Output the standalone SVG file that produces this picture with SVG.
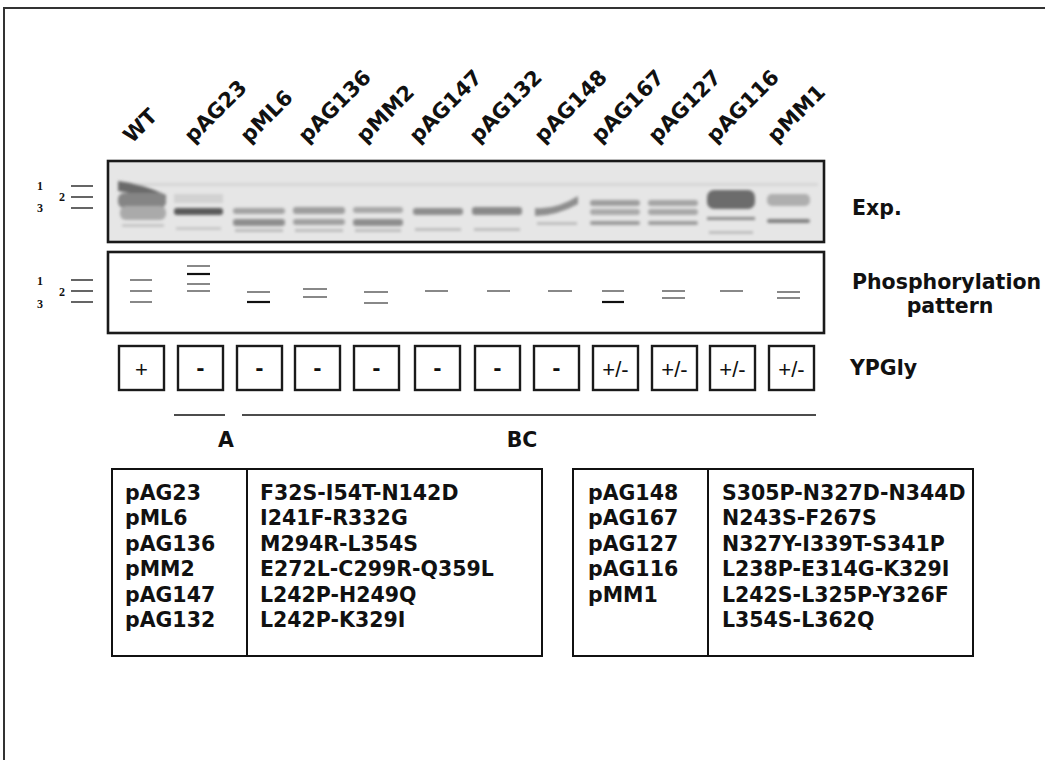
<svg xmlns="http://www.w3.org/2000/svg" width="1045" height="760" viewBox="0 0 1045 760">
<defs>
<style>
.lbl{font-family:"DejaVu Sans",Verdana,sans-serif;font-weight:bold;font-size:21px;fill:#111}
.big{font-family:"DejaVu Sans",Verdana,sans-serif;font-weight:bold;font-size:20.5px;fill:#111}
.num{font-family:"Liberation Serif","Times New Roman",serif;font-weight:bold;font-size:12px;fill:#111}
.mk{stroke:#111;stroke-width:1.3;fill:none}
.g{stroke:#555;stroke-width:1.4;fill:none}
.b{stroke:#111;stroke-width:2.2;fill:none}
.box{fill:#fff;stroke:#1a1a1a;stroke-width:2.4}
.pm{font-family:"Liberation Sans",Arial,sans-serif;font-size:22px;fill:#111;text-anchor:middle}
.dash{font-family:"DejaVu Sans",Verdana,sans-serif;font-weight:bold;font-size:20px;fill:#111;text-anchor:middle}
.frame{fill:none;stroke:#1a1a1a;stroke-width:2.6}
.tbl{fill:none;stroke:#111;stroke-width:2}
</style>
<filter id="blur" x="-20%" y="-50%" width="140%" height="200%"><feGaussianBlur stdDeviation="1.8"/></filter>
</defs>
<rect width="1045" height="760" fill="#fff"/>
<rect x="4" y="8" width="1060" height="770" fill="none" stroke="#333" stroke-width="2"/>

<g id="lane-labels">
<text class="lbl" transform="translate(132,144) rotate(-45)">WT</text>
<text class="lbl" transform="translate(193,144) rotate(-45)">pAG23</text>
<text class="lbl" transform="translate(249,144) rotate(-45)">pML6</text>
<text class="lbl" transform="translate(307,144) rotate(-45)">pAG136</text>
<text class="lbl" transform="translate(365,144) rotate(-45)">pMM2</text>
<text class="lbl" transform="translate(418,144) rotate(-45)">pAG147</text>
<text class="lbl" transform="translate(478,144) rotate(-45)">pAG132</text>
<text class="lbl" transform="translate(543,144) rotate(-45)">pAG148</text>
<text class="lbl" transform="translate(600,144) rotate(-45)">pAG167</text>
<text class="lbl" transform="translate(657,144) rotate(-45)">pAG127</text>
<text class="lbl" transform="translate(715,144) rotate(-45)">pAG116</text>
<text class="lbl" transform="translate(776,144) rotate(-45)">pMM1</text>
</g>

<g id="gel-markers">
<text class="num" x="37" y="190">1</text>
<text class="num" x="59" y="201">2</text>
<text class="num" x="37" y="212">3</text>
<line class="mk" x1="71" y1="186" x2="93" y2="186"/>
<line class="mk" x1="71" y1="197" x2="93" y2="197"/>
<line class="mk" x1="71" y1="208" x2="93" y2="208"/>
</g>

<g id="gel">
<rect x="108" y="161" width="716" height="81" fill="#e6e6e6"/>
<g filter="url(#blur)">
<rect x="118" y="183" width="700" height="3" fill="#d6d6d6"/>
<path d="M118,181 Q140,183 166,195 L166,204 Q140,194 118,191 Z" fill="#6a6a6a"/>
<rect x="118" y="193" width="48" height="15" rx="6" fill="#858585"/>
<rect x="120" y="206" width="46" height="14" rx="6" fill="#aaa"/>
<rect x="122" y="224" width="42" height="3" fill="#c6c6c6"/>
<rect x="174" y="194" width="49" height="9" fill="#d2d2d2"/>
<rect x="174" y="208" width="49" height="7" rx="3" fill="#5a5a5a"/>
<rect x="176" y="227" width="45" height="3" fill="#c8c8c8"/>
<rect x="233" y="208" width="52" height="6" rx="3" fill="#a3a3a3"/>
<rect x="233" y="219" width="52" height="7" rx="3" fill="#8e8e8e"/>
<rect x="235" y="229" width="48" height="3" fill="#bbb"/>
<rect x="293" y="207" width="52" height="7" rx="3" fill="#9e9e9e"/>
<rect x="293" y="219" width="52" height="6" rx="3" fill="#a0a0a0"/>
<rect x="295" y="229" width="48" height="3" fill="#bdbdbd"/>
<rect x="353" y="207" width="50" height="6" rx="3" fill="#a8a8a8"/>
<rect x="353" y="219" width="50" height="7" rx="3" fill="#8e8e8e"/>
<rect x="355" y="229" width="46" height="3" fill="#bdbdbd"/>
<rect x="413" y="208" width="50" height="7" rx="3" fill="#8e8e8e"/>
<rect x="415" y="228" width="46" height="3" fill="#bebebe"/>
<rect x="472" y="207" width="50" height="8" rx="3" fill="#898989"/>
<rect x="474" y="228" width="46" height="3" fill="#bebebe"/>
<path d="M535,208 Q556,210 578,196 L578,204 Q556,216 535,216 Z" fill="#8e8e8e"/>
<rect x="537" y="222" width="40" height="3" fill="#bebebe"/>
<rect x="590" y="200" width="50" height="6" rx="3" fill="#9e9e9e"/>
<rect x="590" y="209" width="50" height="6" rx="3" fill="#aaa"/>
<rect x="590" y="221" width="50" height="4" rx="2" fill="#9a9a9a"/>
<rect x="648" y="200" width="50" height="6" rx="3" fill="#a4a4a4"/>
<rect x="648" y="209" width="50" height="6" rx="3" fill="#a8a8a8"/>
<rect x="648" y="221" width="50" height="4" rx="2" fill="#9c9c9c"/>
<rect x="707" y="190" width="48" height="19" rx="7" fill="#6c6c6c"/>
<rect x="707" y="217" width="48" height="3" fill="#8c8c8c"/>
<rect x="709" y="231" width="44" height="3" fill="#bebebe"/>
<rect x="767" y="194" width="43" height="12" rx="5" fill="#afafaf"/>
<rect x="767" y="219" width="43" height="4" rx="2" fill="#808080"/>
</g>
<rect class="frame" x="108" y="161" width="716" height="81"/>
</g>

<g id="exp-label"><text class="big" x="852" y="215">Exp.</text></g>

<g id="phos-markers">
<text class="num" x="37" y="285">1</text>
<text class="num" x="59" y="296">2</text>
<text class="num" x="37" y="308">3</text>
<line class="mk" x1="71" y1="280" x2="93" y2="280"/>
<line class="mk" x1="71" y1="291" x2="93" y2="291"/>
<line class="mk" x1="71" y1="302" x2="93" y2="302"/>
</g>

<g id="phosphorylation-pattern">
<rect class="frame" x="108" y="252" width="716" height="81" fill="#fff"/>
<line class="g" x1="130" y1="280" x2="152" y2="280" stroke-width="1.1"/>
<line class="g" x1="130" y1="291" x2="152" y2="291"/>
<line class="g" x1="130" y1="302" x2="152" y2="302"/>
<line class="g" x1="187" y1="266" x2="210" y2="266"/>
<line class="b" x1="187" y1="274" x2="210" y2="274"/>
<line class="g" x1="187" y1="284" x2="210" y2="284"/>
<line class="g" x1="187" y1="291" x2="210" y2="291"/>
<line class="g" x1="247" y1="292" x2="270" y2="292" stroke="#222" stroke-width="1.6"/>
<line class="b" x1="247" y1="302" x2="270" y2="302"/>
<line class="g" x1="303" y1="289" x2="327" y2="289"/>
<line class="g" x1="303" y1="297" x2="327" y2="297" stroke="#222"/>
<line class="g" x1="364" y1="292" x2="388" y2="292" stroke="#333"/>
<line class="g" x1="364" y1="303" x2="388" y2="303" stroke="#222"/>
<line class="g" x1="425" y1="291" x2="448" y2="291" stroke="#222" stroke-width="1.6"/>
<line class="g" x1="487" y1="291" x2="510" y2="291" stroke="#222" stroke-width="1.6"/>
<line class="g" x1="548" y1="291" x2="572" y2="291" stroke="#222" stroke-width="1.6"/>
<line class="g" x1="602" y1="291" x2="624" y2="291" stroke="#222"/>
<line class="b" x1="602" y1="302" x2="624" y2="302"/>
<line class="g" x1="662" y1="291" x2="685" y2="291"/>
<line class="g" x1="662" y1="298" x2="685" y2="298"/>
<line class="g" x1="720" y1="291" x2="743" y2="291" stroke="#222" stroke-width="1.6"/>
<line class="g" x1="777" y1="292" x2="800" y2="292" stroke="#777"/>
<line class="g" x1="777" y1="298" x2="800" y2="298" stroke="#777"/>
</g>

<g id="phos-label">
<text class="big" x="852" y="289">Phosphorylation</text>
<text class="big" x="950" y="313" text-anchor="middle">pattern</text>
</g>

<g id="ypgly">
<rect class="box" x="119" y="346" width="45" height="44"/><text class="pm" x="141.5" y="377">+</text>
<rect class="box" x="178" y="346" width="45" height="44"/><text class="dash" x="200.5" y="375">-</text>
<rect class="box" x="237" y="346" width="45" height="44"/><text class="dash" x="259.5" y="375">-</text>
<rect class="box" x="295" y="346" width="45" height="44"/><text class="dash" x="317.5" y="375">-</text>
<rect class="box" x="354" y="346" width="45" height="44"/><text class="dash" x="376.5" y="375">-</text>
<rect class="box" x="415" y="346" width="45" height="44"/><text class="dash" x="437.5" y="375">-</text>
<rect class="box" x="475" y="346" width="45" height="44"/><text class="dash" x="497.5" y="375">-</text>
<rect class="box" x="534" y="346" width="45" height="44"/><text class="dash" x="556.5" y="375">-</text>
<rect class="box" x="593" y="346" width="45" height="44"/><text class="pm" x="615.5" y="377">+/-</text>
<rect class="box" x="652" y="346" width="45" height="44"/><text class="pm" x="674.5" y="377">+/-</text>
<rect class="box" x="710" y="346" width="45" height="44"/><text class="pm" x="732.5" y="377">+/-</text>
<rect class="box" x="769" y="346" width="45" height="44"/><text class="pm" x="791.5" y="377">+/-</text>
<text class="big" x="850" y="375">YPGly</text>
</g>

<g id="connectors">
<line x1="174" y1="415" x2="225" y2="415" stroke="#111" stroke-width="1.4"/>
<line x1="242" y1="415" x2="816" y2="415" stroke="#111" stroke-width="1.4"/>
</g>

<g id="group-labels">
<text class="big" x="226" y="447" text-anchor="middle">A</text>
<text class="big" x="522" y="447" text-anchor="middle">BC</text>
</g>

<g id="table-left">
<rect class="tbl" x="112" y="469" width="430" height="187"/>
<line class="tbl" x1="247" y1="469" x2="247" y2="656"/>
<text class="big" x="125" y="500">pAG23</text><text class="big" x="260" y="500">F32S-I54T-N142D</text>
<text class="big" x="125" y="525">pML6</text><text class="big" x="260" y="525">I241F-R332G</text>
<text class="big" x="125" y="551">pAG136</text><text class="big" x="260" y="551">M294R-L354S</text>
<text class="big" x="125" y="576">pMM2</text><text class="big" x="260" y="576">E272L-C299R-Q359L</text>
<text class="big" x="125" y="602">pAG147</text><text class="big" x="260" y="602">L242P-H249Q</text>
<text class="big" x="125" y="627">pAG132</text><text class="big" x="260" y="627">L242P-K329I</text>
</g>

<g id="table-right">
<rect class="tbl" x="573" y="469" width="400" height="187"/>
<line class="tbl" x1="708" y1="469" x2="708" y2="656"/>
<text class="big" x="588" y="500">pAG148</text><text class="big" x="722" y="500">S305P-N327D-N344D</text>
<text class="big" x="588" y="525">pAG167</text><text class="big" x="722" y="525">N243S-F267S</text>
<text class="big" x="588" y="551">pAG127</text><text class="big" x="722" y="551">N327Y-I339T-S341P</text>
<text class="big" x="588" y="576">pAG116</text><text class="big" x="722" y="576">L238P-E314G-K329I</text>
<text class="big" x="588" y="602">pMM1</text><text class="big" x="722" y="602">L242S-L325P-Y326F</text>
<text class="big" x="722" y="627">L354S-L362Q</text>
</g>
</svg>
